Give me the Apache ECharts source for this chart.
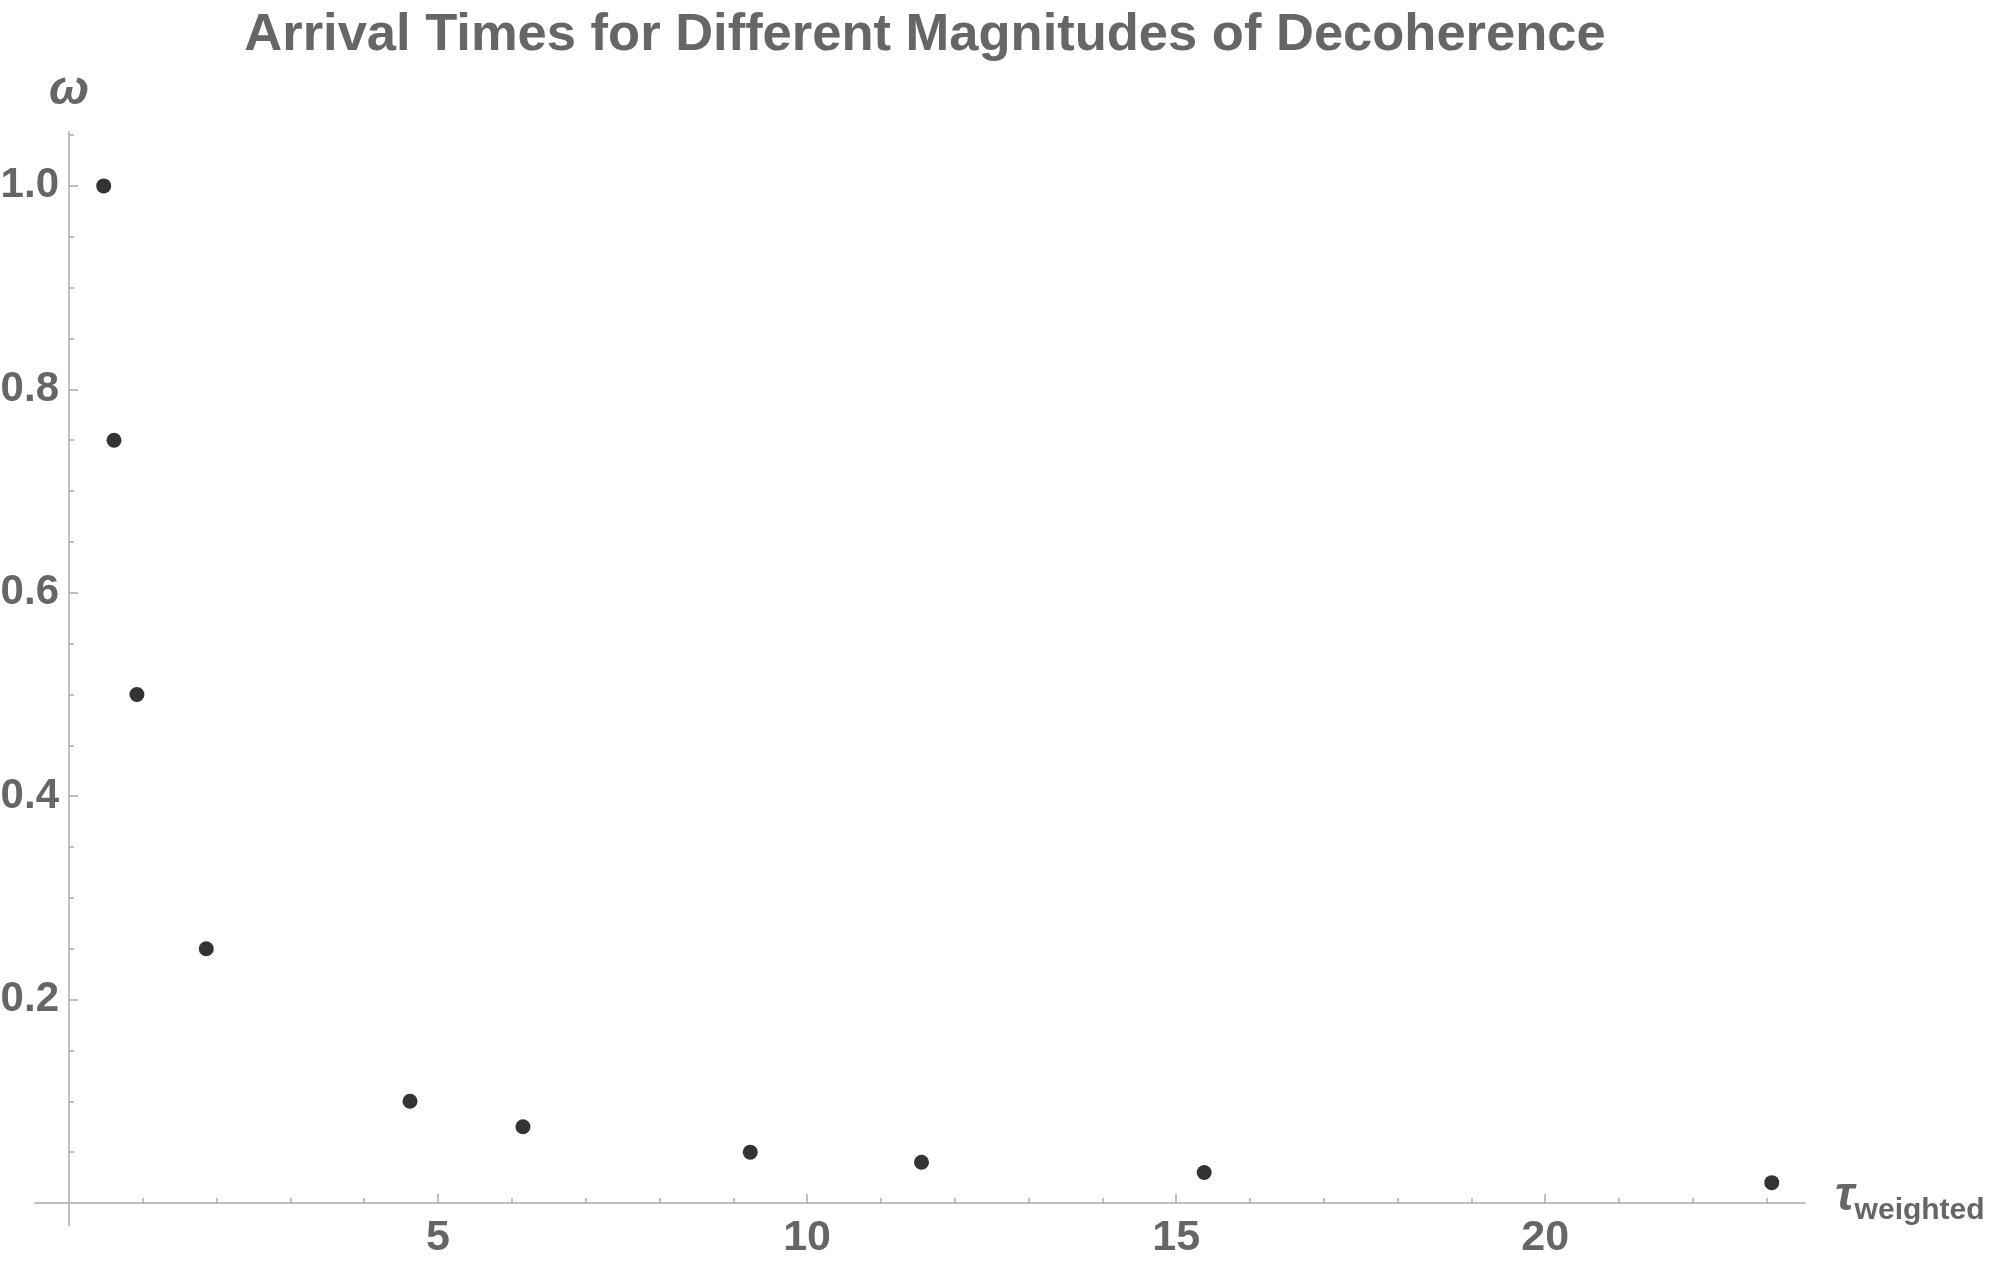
<!DOCTYPE html>
<html>
<head>
<meta charset="utf-8">
<script src="https://cdn.jsdelivr.net/npm/echarts@6/dist/echarts.min.js"></script>
<style>
html,body{margin:0;padding:0;background:#fff;}
#chart{width:1992px;height:1267px;}
</style>
</head>
<body>
<div id="chart"></div>
<script>
// Data
const tauWeighted = [0.47, 0.61, 0.92, 1.86, 4.62, 6.15, 9.23, 11.55, 15.38, 23.07];
const omega       = [1.0, 0.75, 0.5, 0.25, 0.1, 0.075, 0.05, 0.04, 0.03, 0.02];

// Axis tick labels
const xTickLabels = [5, 10, 15, 20];
const yTickLabels = [0.2, 0.4, 0.6, 0.8, 1.0];

const titleText = 'Arrival Times for Different Magnitudes of Decoherence';

const FONT = "'Liberation Sans Narrow', 'Liberation Sans', Arial, sans-serif";
const GRAY = '#666666';
const AXIS = '#aaaaaa';

// axis extents (the axes reach slightly past the origin, as in the reference)
const xMin = 0, xMax = 23.52, xExt = -0.47;
const yMin = 0, yMax = 1.053, yExt = -0.0226;

const chart = echarts.init(document.getElementById('chart'));

chart.setOption({
  animation: false,
  backgroundColor: '#ffffff',
  title: {
    text: titleText,
    left: 920, top: 4, textAlign: 'center',
    textStyle: {fontFamily: FONT, fontSize: 52.5, fontWeight: 'bold', color: GRAY}
  },
  grid: {left: 69, right: 187, top: 132, bottom: 64, containLabel: false, outerBoundsMode: 'none'},
  xAxis: {
    type: 'value', min: xMin, max: xMax, interval: 5,
    name: '{t|τ}{s|weighted}',
    nameLocation: 'end', nameGap: 30,
    nameTextStyle: {
      padding: [15, 0, 0, 0],
      rich: {
        t: {fontFamily: FONT, fontSize: 48, fontStyle: 'italic', fontWeight: 'bold', color: GRAY, padding: [0, 0, 27, 0]},
        s: {fontFamily: FONT, fontSize: 30, fontWeight: 'bold', color: GRAY}
      }
    },
    axisLine: {show: true, onZero: false, lineStyle: {color: AXIS, width: 1.5}},
    axisTick: {show: true, inside: true, length: 9, customValues: xTickLabels, lineStyle: {color: AXIS, width: 1.5}},
    minorTick: {show: true, splitNumber: 5, length: 5, lineStyle: {color: AXIS, width: 1.5}},
    axisLabel: {customValues: xTickLabels, margin: 14, color: GRAY,
      fontFamily: FONT, fontSize: 43, fontWeight: 'bold'},
    splitLine: {show: false}, minorSplitLine: {show: false}
  },
  yAxis: {
    type: 'value', min: yMin, max: yMax, interval: 0.2,
    name: 'ω',
    nameLocation: 'end', nameGap: 17,
    nameTextStyle: {fontFamily: FONT, fontSize: 48, fontStyle: 'italic', fontWeight: 'bold', color: GRAY, align: 'center'},
    axisLine: {show: true, onZero: false, lineStyle: {color: AXIS, width: 1.5}},
    axisTick: {show: true, inside: true, length: 9, customValues: yTickLabels, lineStyle: {color: AXIS, width: 1.5}},
    minorTick: {show: true, splitNumber: 4, length: 5, lineStyle: {color: AXIS, width: 1.5}},
    axisLabel: {customValues: yTickLabels, margin: 10, color: GRAY,
      fontFamily: FONT, fontSize: 42, fontWeight: 'bold',
      formatter: v => v.toFixed(1)},
    splitLine: {show: false}, minorSplitLine: {show: false}
  },
  series: [{
    type: 'scatter',
    symbol: 'circle', symbolSize: 15,
    itemStyle: {color: '#000000'},
    data: tauWeighted.map((t, i) => [t, omega[i]])
  }]
});

// extend the axis lines slightly past the origin
const o  = chart.convertToPixel({gridIndex: 0}, [0, 0]);
const ex = chart.convertToPixel({gridIndex: 0}, [xExt, 0]);
const ey = chart.convertToPixel({gridIndex: 0}, [0, yExt]);
chart.setOption({
  graphic: [
    {type: 'line', silent: true, shape: {x1: ex[0], y1: o[1], x2: o[0], y2: o[1]}, style: {stroke: AXIS, lineWidth: 1.5}},
    {type: 'line', silent: true, shape: {x1: o[0], y1: o[1], x2: o[0], y2: ey[1]}, style: {stroke: AXIS, lineWidth: 1.5}}
  ]
});
</script>
</body>
</html>
